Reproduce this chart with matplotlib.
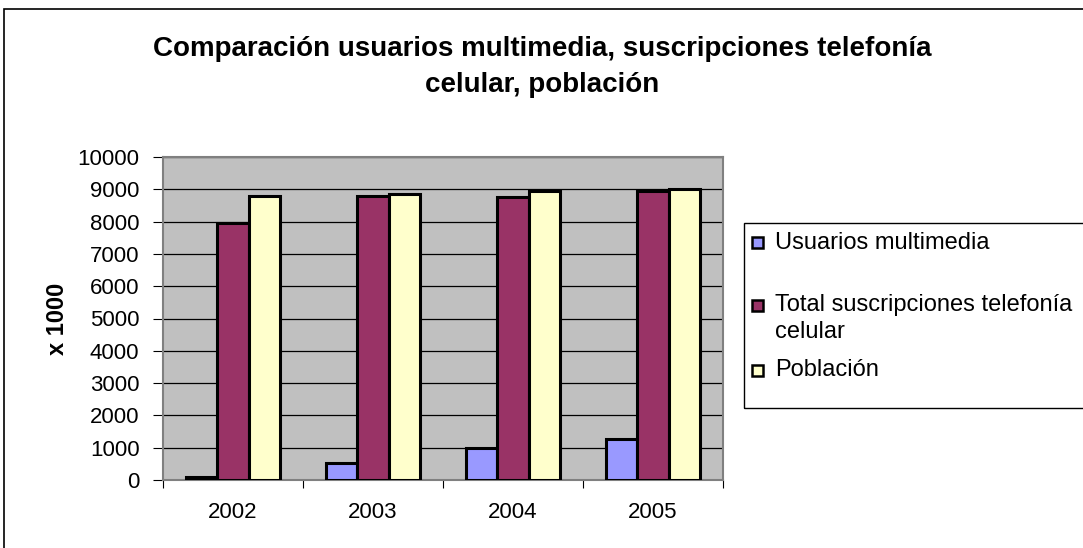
import numpy as np
import matplotlib
matplotlib.use("Agg")
from matplotlib import pyplot as plt
from matplotlib.patches import Rectangle

plt.rcParams['font.family'] = ['Liberation Sans', 'DejaVu Sans']

# datos (x 1000)
years = ["2002", "2003", "2004", "2005"]
multimedia = [100, 520, 980, 1280]
telefonia = [7950, 8780, 8750, 8950]
poblacion = [8800, 8860, 8960, 9010]

series = [
    ("Usuarios multimedia", multimedia, "#9999FF"),
    ("Total suscripciones telefonía\ncelular", telefonia, "#993366"),
    ("Población", poblacion, "#FFFFCC"),
]

W, H = 1083, 548
fig = plt.figure(figsize=(W / 100, H / 100), dpi=100)

# marco exterior
fig.patches.append(Rectangle((4 / W, -0.1), 1.2, 1 - 9 / H + 0.1, transform=fig.transFigure,
                             fill=False, edgecolor="black", linewidth=1.2))

ax = fig.add_axes([163 / W, 1 - 480 / H, 560 / W, 323 / H])
ax.set_facecolor("#C0C0C0")

x = np.arange(len(years))
bw = 1 / 4.5
for i, (name, vals, col) in enumerate(series):
    ax.bar(x + (i - 1) * bw, vals, width=bw, color=col, edgecolor="black", linewidth=2.2, zorder=3)

ax.set_xlim(-0.5, len(years) - 0.5)
ax.set_ylim(0, 10000)
ax.set_yticks(np.arange(0, 10001, 1000))
ax.yaxis.grid(True, color="black", linewidth=0.9, zorder=1)
ax.set_axisbelow(True)

ax.set_xticks(np.arange(-0.5, len(years), 1))
ax.set_xticklabels([])
ax.set_xticks(x, minor=True)
ax.set_xticklabels(years, minor=True)
ax.tick_params(axis="x", which="major", length=6, direction="out", color="black")
ax.tick_params(axis="x", which="minor", length=0, pad=16, labelsize=16)
ax.tick_params(axis="y", length=7, direction="out", labelsize=16, pad=10)

for s in ["top", "right", "left", "bottom"]:
    ax.spines[s].set_color("#808080")
    ax.spines[s].set_linewidth(1.5)

ax.set_ylabel("x 1000", fontsize=17, fontweight="bold", labelpad=6)

fig.text(542 / W, 1 - 67 / H, "Comparación usuarios multimedia, suscripciones telefonía\ncelular, población",
         ha="center", va="center", fontsize=20, fontweight="bold", linespacing=1.5)

# leyenda
fig.patches.append(Rectangle((744 / W, 1 - 408 / H), 0.5, 185 / H, transform=fig.transFigure,
                             fill=False, edgecolor="black", linewidth=1))
leg_y = [243, 305, 370]
for (name, vals, col), yy in zip(series, leg_y):
    fig.patches.append(Rectangle((752 / W, 1 - (yy + 5.5) / H), 11 / W, 11 / H, transform=fig.transFigure,
                                 facecolor=col, edgecolor="black", linewidth=1.8))
    fig.text(775 / W, 1 - (yy - 11) / H, name, ha="left", va="top", fontsize=17, linespacing=1.3)

fig.savefig("out.png", dpi=100)
